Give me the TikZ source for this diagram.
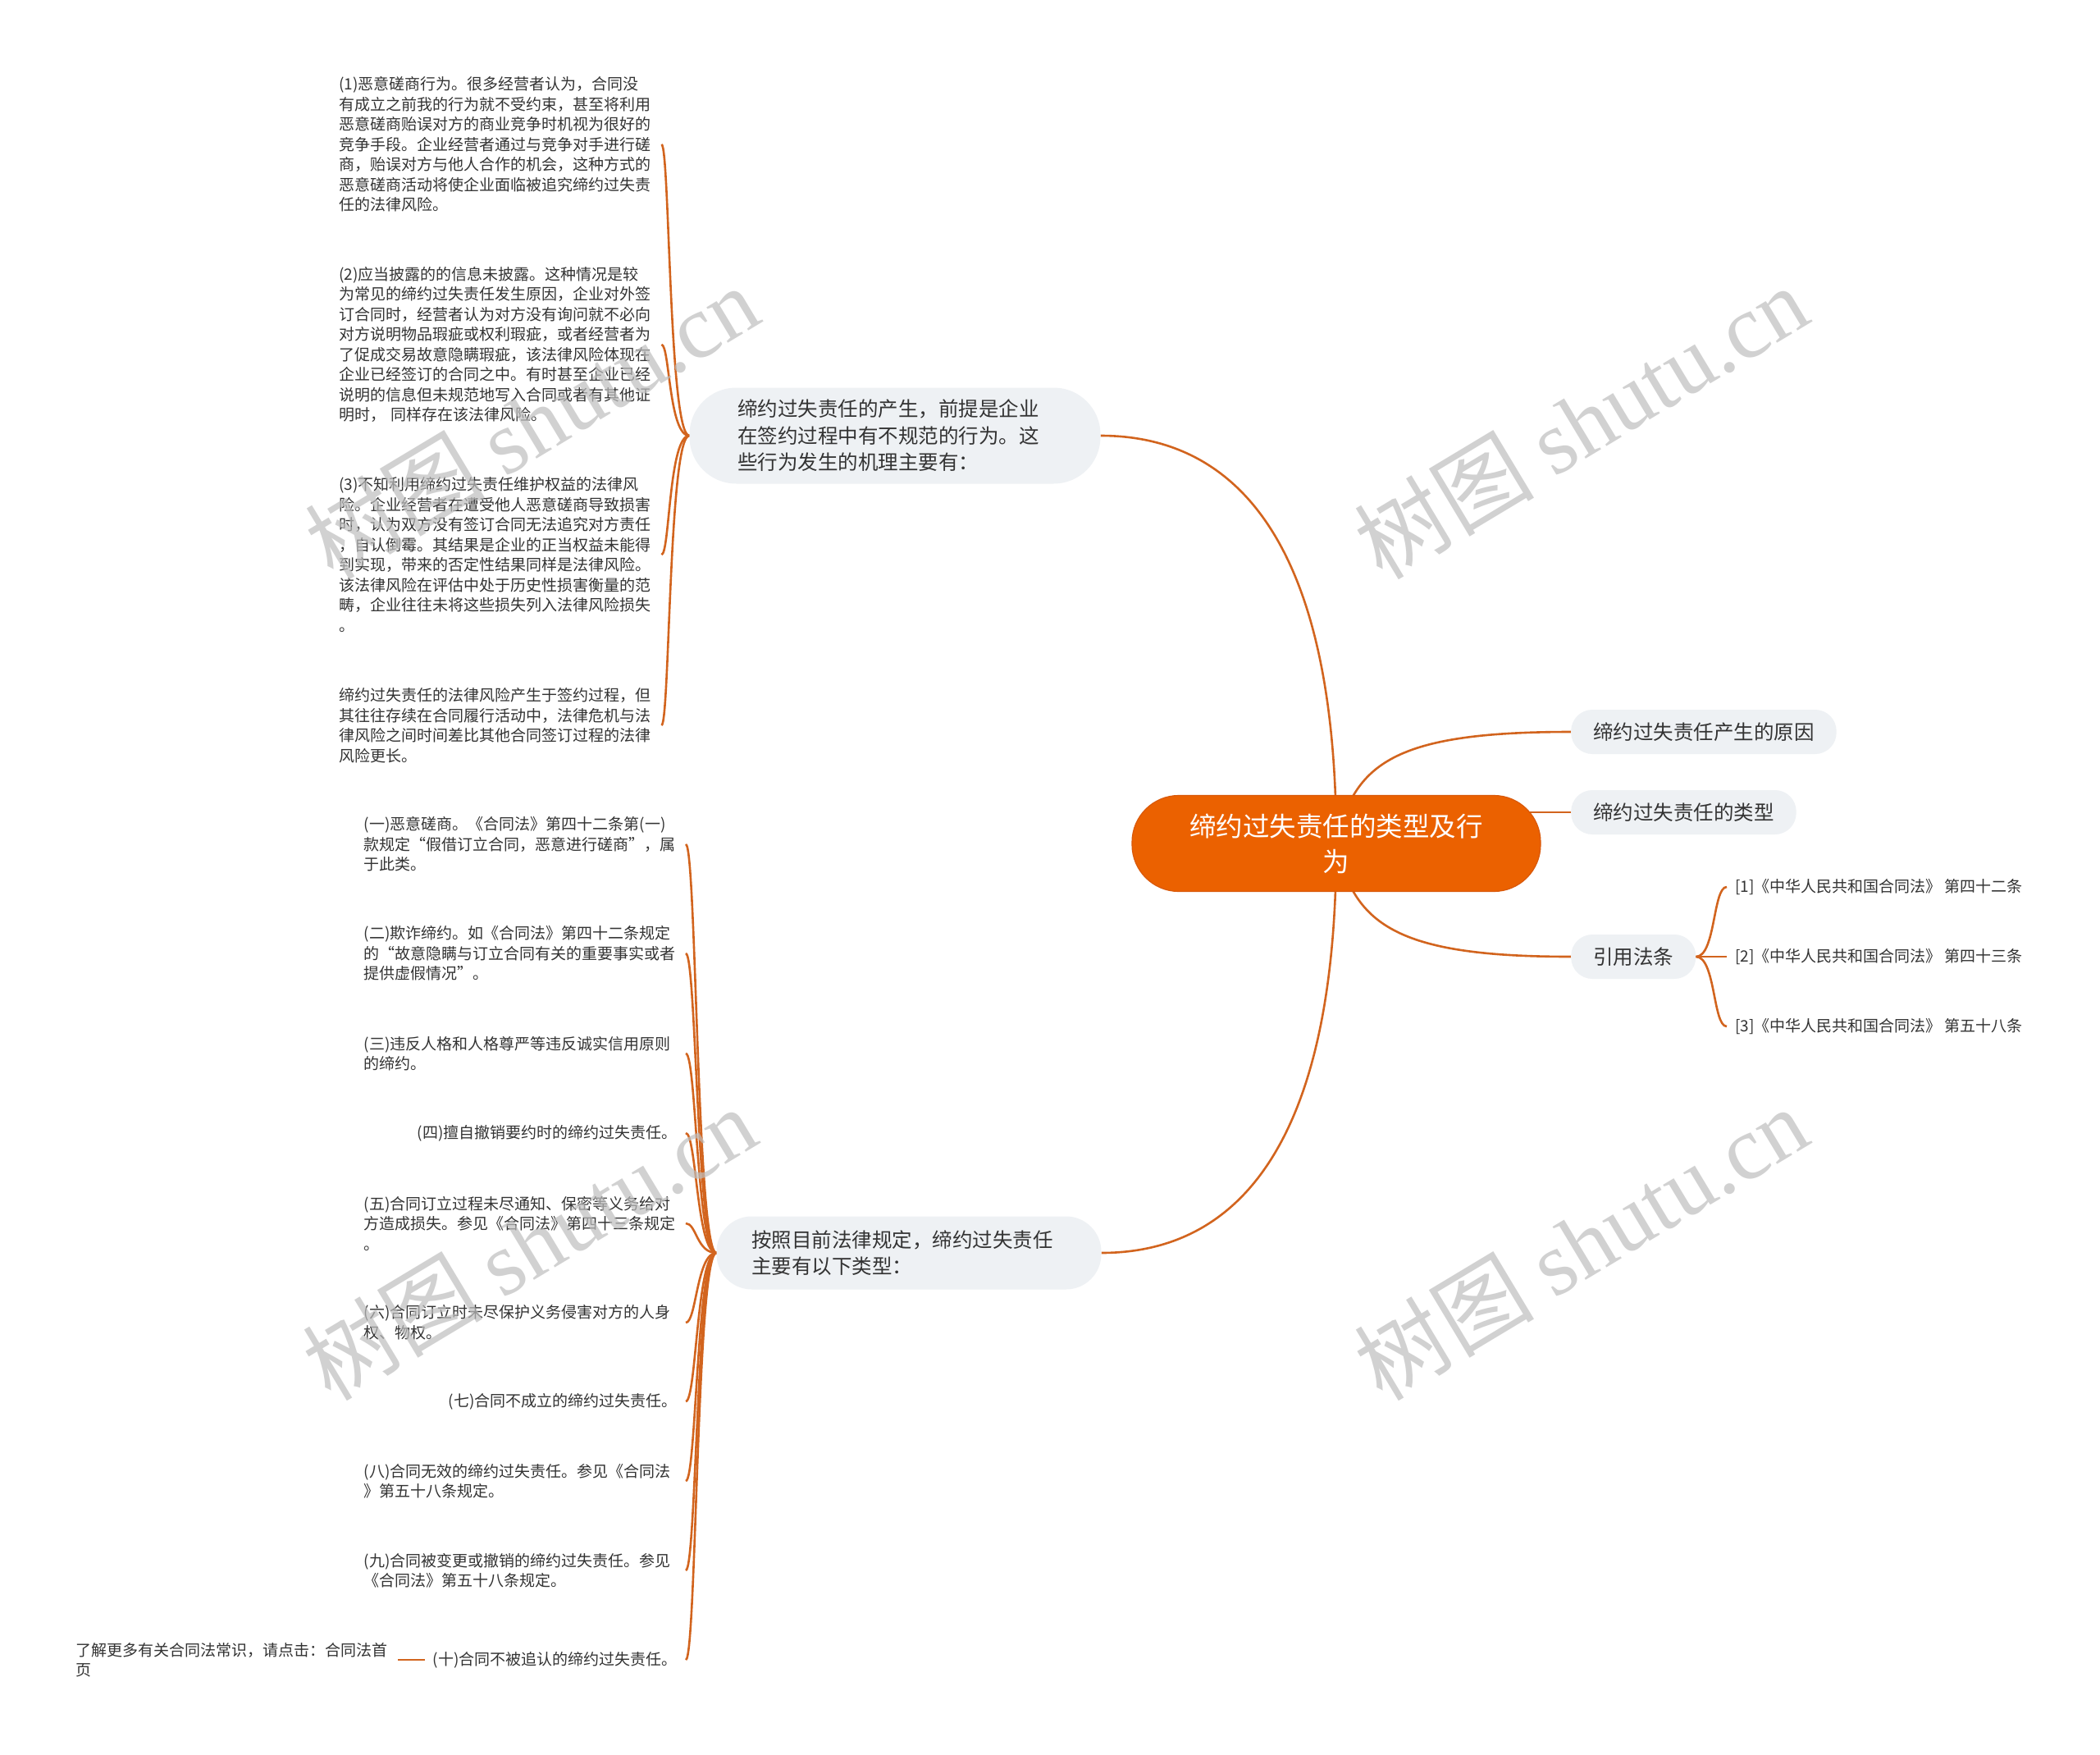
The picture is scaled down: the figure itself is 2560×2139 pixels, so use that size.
\documentclass[tikz,border=0pt]{standalone}
\usepackage{fontspec}
\setmainfont{Noto Sans CJK SC}
\newfontfamily\wmlatin{Liberation Serif}
\usetikzlibrary{backgrounds}
\definecolor{lineC}{HTML}{D2641E}
\definecolor{rootC}{HTML}{EB6100}
\definecolor{rootB}{HTML}{D9590A}
\definecolor{greyC}{HTML}{EEF1F4}
\definecolor{txtC}{HTML}{333333}
\definecolor{wmC}{HTML}{BEBEBE}
\tikzset{
  rootnode/.style={fill=rootC, draw=rootB, line width=1.2pt, rounded corners=57pt,
    minimum width=498pt, minimum height=117pt, text=white,
    font=\fontsize{32.5}{43}\selectfont, align=center, inner sep=0pt},
  branchnode/.style={fill=greyC, text=txtC, font=\fontsize{24.5}{32.5}\selectfont,
    align=left, inner sep=0pt, text width=384pt},
  subnode/.style={fill=greyC, text=txtC, font=\fontsize{24.5}{30}\selectfont,
    rounded corners=26pt, minimum height=54pt, inner xsep=27pt, inner ysep=0pt, anchor=west},
  leafL/.style={text=txtC, font=\fontsize{19}{24.5}\selectfont, align=left,
    inner sep=0pt, text width=393pt, anchor=west},
  leafR/.style={text=txtC, font=\fontsize{19}{24.5}\selectfont, align=left,
    inner xsep=10pt, inner ysep=0pt, text width=382pt, anchor=east},
  leafS/.style={text=txtC, font=\fontsize{19}{24.5}\selectfont,
    inner xsep=10pt, inner ysep=0pt, anchor=east},
  citenode/.style={text=txtC, font=\fontsize{19}{24.5}\selectfont,
    inner xsep=10pt, inner ysep=0pt, anchor=west},
  link/.style={draw=lineC, line width=2.6pt},
  wm/.style={text=wmC, opacity=0.7, rotate=31, font=\fontsize{110}{120}\selectfont, inner sep=0pt}
}
\begin{document}
\begin{tikzpicture}[x=1pt,y=-1pt]
\useasboundingbox (0,0) rectangle (2560,2139);
% root and branches
\node[rootnode] (root) at (1629,1028) {缔约过失责任的类型及行\\为};
\node[branchnode, minimum width=501pt, minimum height=117pt, rounded corners=57pt] (B1) at (1091,531)
  {缔约过失责任的产生，前提是企业\\在签约过程中有不规范的行为。这\\些行为发生的机理主要有：};
\node[branchnode, minimum width=469pt, minimum height=89pt, rounded corners=43pt] (B2) at (1108,1527)
  {按照目前法律规定，缔约过失责任\\主要有以下类型：};
\node[subnode] (R1) at (1915,892) {缔约过失责任产生的原因};
\node[subnode] (R2) at (1915,990) {缔约过失责任的类型};
\node[subnode] (R3) at (1915,1166) {引用法条};
% citations
\node[citenode] (C1) at (2105,1081) {[1]《中华人民共和国合同法》 第四十二条};
\node[citenode] (C2) at (2105,1166) {[2]《中华人民共和国合同法》 第四十三条};
\node[citenode] (C3) at (2105,1251) {[3]《中华人民共和国合同法》 第五十八条};
% group 1
\node[leafL] (L1) at (413,176) {(1)恶意磋商行为。很多经营者认为，合同没\\有成立之前我的行为就不受约束，甚至将利用\\恶意磋商贻误对方的商业竞争时机视为很好的\\竞争手段。企业经营者通过与竞争对手进行磋\\商，贻误对方与他人合作的机会，这种方式的\\恶意磋商活动将使企业面临被追究缔约过失责\\任的法律风险。};
\node[leafL] (L2) at (413,420) {(2)应当披露的的信息未披露。这种情况是较\\为常见的缔约过失责任发生原因，企业对外签\\订合同时，经营者认为对方没有询问就不必向\\对方说明物品瑕疵或权利瑕疵，或者经营者为\\了促成交易故意隐瞒瑕疵，该法律风险体现在\\企业已经签订的合同之中。有时甚至企业已经\\说明的信息但未规范地写入合同或者有其他证\\明时， 同样存在该法律风险。};
\node[leafL] (L3) at (413,676) {(3)不知利用缔约过失责任维护权益的法律风\\险。企业经营者在遭受他人恶意磋商导致损害\\时，认为双方没有签订合同无法追究对方责任\\，自认倒霉。其结果是企业的正当权益未能得\\到实现，带来的否定性结果同样是法律风险。\\该法律风险在评估中处于历史性损害衡量的范\\畴，企业往往未将这些损失列入法律风险损失\\。};
\node[leafL] (L4) at (413,884) {缔约过失责任的法律风险产生于签约过程，但\\其往往存续在合同履行活动中，法律危机与法\\律风险之间时间差比其他合同签订过程的法律\\风险更长。};
% group 2
\node[leafR] (G1) at (836,1029) {(一)恶意磋商。《合同法》第四十二条第(一)\\款规定“假借订立合同，恶意进行磋商”，属\\于此类。};
\node[leafR] (G2) at (836,1162) {(二)欺诈缔约。如《合同法》第四十二条规定\\的“故意隐瞒与订立合同有关的重要事实或者\\提供虚假情况”。};
\node[leafR] (G3) at (836,1284) {(三)违反人格和人格尊严等违反诚实信用原则\\的缔约。};
\node[leafS] (G4) at (836,1381) {(四)擅自撤销要约时的缔约过失责任。};
\node[leafR] (G5) at (836,1491) {(五)合同订立过程未尽通知、保密等义务给对\\方造成损失。参见《合同法》第四十三条规定\\。};
\node[leafR] (G6) at (836,1612) {(六)合同订立时未尽保护义务侵害对方的人身\\权、物权。};
\node[leafS] (G7) at (836,1708) {(七)合同不成立的缔约过失责任。};
\node[leafR] (G8) at (836,1805) {(八)合同无效的缔约过失责任。参见《合同法\\》第五十八条规定。};
\node[leafR] (G9) at (836,1914) {(九)合同被变更或撤销的缔约过失责任。参见\\《合同法》第五十八条规定。};
\node[leafS] (G10) at (836,2023) {(十)合同不被追认的缔约过失责任。};
\node[leafR] (G10c) at (485,2023) {了解更多有关合同法常识，请点击：合同法首\\页};
% connectors
\begin{scope}[on background layer]
\fill[white] (0,0) rectangle (2560,2139);
\draw[link] (root.center) .. controls +(0,-378) and +(158,0) .. (B1.east);
\draw[link] (root.center) .. controls +(0,379) and +(158,0) .. (B2.east);
\draw[link] (root.center) .. controls +(21,-98) and +(-215,0) .. (R1.west);
\draw[link] (root.center |- R2.west) -- (R2.west);
\draw[link] (root.center) .. controls +(21,98) and +(-215,0) .. (R3.west);
\draw[link] (R3.east) .. controls +(24,0) and +(-17,0) .. (C1.west);
\draw[link] (R3.east) -- (C2.west);
\draw[link] (R3.east) .. controls +(24,0) and +(-17,0) .. (C3.west);
\foreach \n in {L1,L2,L3,L4}
  \draw[link] (B1.west) .. controls +(-25,0) and +(10,0) .. (\n.east);
\foreach \n in {G1,G2,G3,G4,G5,G6,G7,G8,G9,G10}
  \draw[link] (B2.west) .. controls +(-24,0) and +(13,0) .. (\n.east);
\draw[link] (G10.west) -- (G10c.east);
\end{scope}
% watermarks
\node[wm] (w1) at (648,514) {树图 {\wmlatin shutu.cn}};
\node[wm] (w2) at (1927,514) {树图 {\wmlatin shutu.cn}};
\node[wm] (w3) at (645,1515) {树图 {\wmlatin shutu.cn}};
\node[wm] (w4) at (1927,1515) {树图 {\wmlatin shutu.cn}};
\end{tikzpicture}
\end{document}
